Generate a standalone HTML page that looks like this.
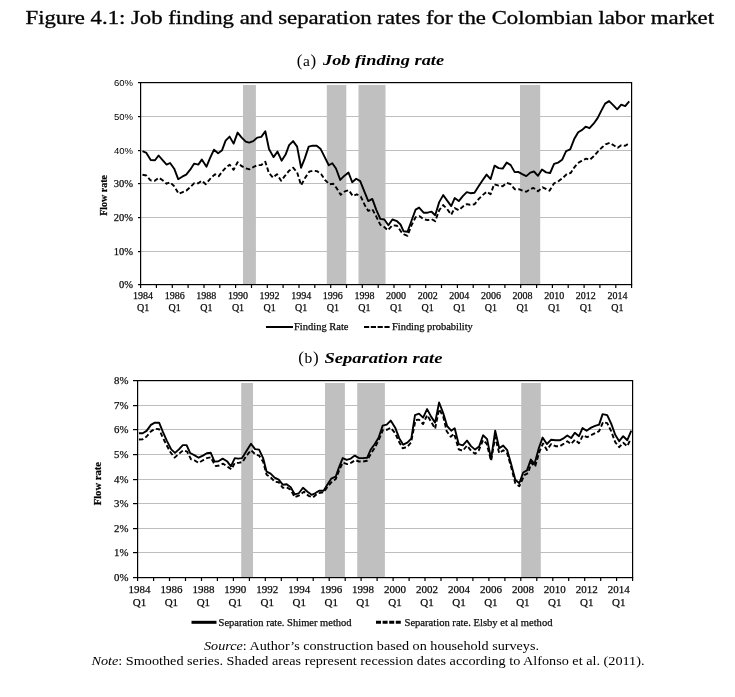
<!DOCTYPE html><html><head><meta charset="utf-8"><style>
html,body{margin:0;padding:0;background:#fff;}body{width:735px;height:697px;overflow:hidden;position:relative;}
svg{position:absolute;left:0;top:0;will-change:transform;}
text{font-family:"Liberation Serif", serif;fill:#000;}
.lab{stroke:#1a1a1a;stroke-width:0.25px;}
</style></head><body>
<svg width="735" height="697" viewBox="0 0 735 697">
<rect width="735" height="697" fill="#fff"/>
<text x="25.5" y="23.7" font-size="18.5" textLength="688.5" lengthAdjust="spacingAndGlyphs" fill="#141414" stroke="#141414" stroke-width="0.35">Figure 4.1: Job finding and separation rates for the Colombian labor market</text>
<text x="296.8" y="65.5" font-size="17" fill="#1a1a1a">(<tspan font-size="15.5" dx="0.6">a</tspan><tspan dx="0.6">)</tspan></text>
<text x="323" y="64.8" font-size="15.5" font-weight="bold" font-style="italic" textLength="121" lengthAdjust="spacingAndGlyphs" fill="#1a1a1a">Job finding rate</text>
<text x="298.3" y="363.3" font-size="17" fill="#1a1a1a">(<tspan font-size="15.5" dx="0.6">b</tspan><tspan dx="0.6">)</tspan></text>
<text x="324.5" y="362.6" font-size="15.5" font-weight="bold" font-style="italic" textLength="118" lengthAdjust="spacingAndGlyphs" fill="#1a1a1a">Separation rate</text>
<rect x="140" y="116" width="491" height="1" fill="#bebebe"/>
<rect x="140" y="150" width="491" height="1" fill="#bebebe"/>
<rect x="140" y="183" width="491" height="1" fill="#bebebe"/>
<rect x="140" y="217" width="491" height="1" fill="#bebebe"/>
<rect x="140" y="251" width="491" height="1" fill="#bebebe"/>
<rect x="243" y="85" width="12.900000000000006" height="199" fill="#c0c0c0"/>
<rect x="326.8" y="85" width="19.5" height="199" fill="#c0c0c0"/>
<rect x="358.5" y="85" width="27.0" height="199" fill="#c0c0c0"/>
<rect x="520" y="85" width="20.200000000000045" height="199" fill="#c0c0c0"/>
<polyline points="142.5,151.1 146.4,152.9 150.7,160.1 155.0,160.3 158.6,155.5 162.6,160.1 166.6,164.6 170.1,163.0 174.2,168.7 178.2,179.2 182.2,176.7 186.2,174.7 190.2,169.7 194.2,163.6 198.3,164.6 201.8,159.6 206.5,166.7 210.0,158.2 214.0,149.7 218.1,153.2 222.1,150.2 225.6,140.6 229.6,136.6 233.6,143.6 237.6,132.6 241.7,137.6 245.7,141.6 249.2,142.6 253.2,141.1 257.2,137.6 261.3,136.9 265.3,131.3 269.0,149.0 273.5,157.1 277.5,151.6 281.6,160.7 285.6,154.6 289.1,145.1 293.1,141.1 297.1,146.6 301.1,167.7 304.7,158.6 308.7,146.6 312.7,145.6 316.7,145.8 320.7,149.1 324.7,157.1 328.8,165.2 332.3,163.2 336.0,168.5 340.2,179.9 344.2,175.9 348.5,172.5 352.2,182.2 356.2,178.8 360.2,181.1 364.3,191.4 368.3,201.1 372.3,198.9 376.3,209.8 380.3,218.9 384.3,219.5 388.4,225.2 392.4,219.5 397.0,221.2 400.5,224.5 403.5,231.2 407.5,231.7 411.5,220.7 415.6,209.6 419.1,207.6 423.6,212.7 427.6,212.7 431.6,211.7 435.2,215.2 439.2,202.1 443.2,195.1 447.2,200.6 451.2,206.1 454.7,198.1 458.8,201.1 462.8,196.1 466.8,192.1 470.5,193.2 474.5,192.7 478.6,186.2 482.6,180.2 486.6,174.6 490.6,179.1 494.6,165.6 498.6,168.1 502.7,168.6 506.7,162.6 510.7,165.1 514.7,172.1 518.2,171.9 522.2,174.1 526.3,176.1 530.3,172.6 534.0,171.5 538.0,175.8 542.0,169.5 546.1,172.4 550.1,173.0 554.1,163.8 558.1,162.6 562.1,159.8 566.1,151.1 570.2,149.4 574.2,139.1 578.2,132.2 582.2,129.9 585.6,126.7 589.5,128.2 593.6,123.7 597.6,118.1 601.1,111.1 605.1,103.6 609.1,101.1 613.2,105.1 617.2,109.3 621.2,104.6 625.2,106.1 629.2,101.3" fill="none" stroke="#000" stroke-width="1.9" stroke-linejoin="round" stroke-linecap="butt"/>
<polyline points="142.5,174.8 146.4,175.5 150.5,180.4 154.7,180.8 158.8,177.7 162.6,180.2 166.6,183.7 170.1,182.2 174.2,186.2 178.7,193.8 182.2,192.3 186.2,190.8 190.2,187.2 194.2,183.2 198.3,183.2 201.8,180.7 205.8,184.2 211.5,177.3 215.1,174.3 218.6,176.3 222.3,171.5 226.1,167.2 229.6,164.7 233.6,169.8 237.6,162.2 241.7,166.2 245.7,168.3 249.7,169.3 253.2,167.2 257.2,165.2 261.3,165.0 265.3,161.7 268.8,172.8 273.0,177.7 277.0,174.2 281.1,180.7 285.1,175.7 289.1,170.7 293.1,167.7 297.1,172.2 301.1,185.3 305.2,177.7 309.2,171.7 313.2,170.7 317.2,171.2 321.2,174.2 325.2,180.2 329.3,184.3 333.3,183.8 336.5,188.0 340.7,194.8 344.8,191.4 348.8,190.2 352.8,196.0 356.8,194.3 360.8,196.6 364.8,205.2 368.3,210.9 372.3,209.2 376.3,216.6 380.3,224.7 384.3,227.0 387.8,230.4 392.4,225.2 397.0,225.8 401.5,232.2 404.0,234.3 407.5,235.8 411.5,225.2 415.6,217.2 419.6,216.2 423.6,219.2 427.6,220.2 431.6,219.2 435.2,221.2 439.2,210.2 443.2,205.1 447.2,209.1 451.2,214.7 454.7,208.1 458.8,210.2 462.8,206.6 466.8,204.1 470.0,204.8 474.5,204.3 478.6,199.2 482.6,195.2 486.6,191.7 490.6,194.2 494.1,184.2 498.6,185.7 502.7,186.2 506.7,182.7 510.7,184.2 514.7,189.2 518.7,189.2 522.7,190.7 526.3,191.7 530.3,189.2 533.4,187.9 538.0,191.3 542.6,187.3 549.5,190.7 554.1,183.3 558.7,181.0 563.3,177.5 566.7,174.1 570.7,173.0 573.6,168.4 577.6,163.2 581.6,160.9 586.2,158.6 589.7,159.8 593.7,156.3 597.6,151.8 601.6,147.8 605.6,144.3 609.6,142.8 613.7,145.3 617.7,147.8 621.2,145.3 625.2,145.8 629.2,143.3" fill="none" stroke="#000" stroke-width="1.9" stroke-linejoin="round" stroke-dasharray="4.5 2.5"/>
<rect x="140" y="82" width="492" height="1.2" fill="#000"/>
<rect x="140" y="284" width="492" height="1.2" fill="#000"/>
<rect x="140" y="82" width="1.2" height="203" fill="#000"/>
<rect x="631" y="82" width="1.2" height="203" fill="#000"/>
<rect x="138" y="82" width="2" height="1.2" fill="#000"/>
<rect x="138" y="116" width="2" height="1.2" fill="#000"/>
<rect x="138" y="150" width="2" height="1.2" fill="#000"/>
<rect x="138" y="183" width="2" height="1.2" fill="#000"/>
<rect x="138" y="217" width="2" height="1.2" fill="#000"/>
<rect x="138" y="251" width="2" height="1.2" fill="#000"/>
<rect x="138" y="284" width="2" height="1.2" fill="#000"/>
<rect x="140.0" y="284" width="1.2" height="4" fill="#000"/>
<rect x="155.8" y="284" width="1.2" height="4" fill="#000"/>
<rect x="171.7" y="284" width="1.2" height="4" fill="#000"/>
<rect x="187.5" y="284" width="1.2" height="4" fill="#000"/>
<rect x="203.4" y="284" width="1.2" height="4" fill="#000"/>
<rect x="219.2" y="284" width="1.2" height="4" fill="#000"/>
<rect x="235.0" y="284" width="1.2" height="4" fill="#000"/>
<rect x="250.9" y="284" width="1.2" height="4" fill="#000"/>
<rect x="266.7" y="284" width="1.2" height="4" fill="#000"/>
<rect x="282.5" y="284" width="1.2" height="4" fill="#000"/>
<rect x="298.4" y="284" width="1.2" height="4" fill="#000"/>
<rect x="314.2" y="284" width="1.2" height="4" fill="#000"/>
<rect x="330.1" y="284" width="1.2" height="4" fill="#000"/>
<rect x="345.9" y="284" width="1.2" height="4" fill="#000"/>
<rect x="361.7" y="284" width="1.2" height="4" fill="#000"/>
<rect x="377.6" y="284" width="1.2" height="4" fill="#000"/>
<rect x="393.4" y="284" width="1.2" height="4" fill="#000"/>
<rect x="409.3" y="284" width="1.2" height="4" fill="#000"/>
<rect x="425.1" y="284" width="1.2" height="4" fill="#000"/>
<rect x="440.9" y="284" width="1.2" height="4" fill="#000"/>
<rect x="456.8" y="284" width="1.2" height="4" fill="#000"/>
<rect x="472.6" y="284" width="1.2" height="4" fill="#000"/>
<rect x="488.5" y="284" width="1.2" height="4" fill="#000"/>
<rect x="504.3" y="284" width="1.2" height="4" fill="#000"/>
<rect x="520.1" y="284" width="1.2" height="4" fill="#000"/>
<rect x="536.0" y="284" width="1.2" height="4" fill="#000"/>
<rect x="551.8" y="284" width="1.2" height="4" fill="#000"/>
<rect x="567.6" y="284" width="1.2" height="4" fill="#000"/>
<rect x="583.5" y="284" width="1.2" height="4" fill="#000"/>
<rect x="599.3" y="284" width="1.2" height="4" fill="#000"/>
<rect x="615.2" y="284" width="1.2" height="4" fill="#000"/>
<rect x="631.0" y="284" width="1.2" height="4" fill="#000"/>
<text x="143.1" y="298.8" font-size="10" text-anchor="middle" class="lab" fill="#1a1a1a">1984</text>
<text x="143.1" y="311" font-size="10" text-anchor="middle" class="lab" fill="#1a1a1a">Q1</text>
<text x="174.7" y="298.8" font-size="10" text-anchor="middle" class="lab" fill="#1a1a1a">1986</text>
<text x="174.7" y="311" font-size="10" text-anchor="middle" class="lab" fill="#1a1a1a">Q1</text>
<text x="206.3" y="298.8" font-size="10" text-anchor="middle" class="lab" fill="#1a1a1a">1988</text>
<text x="206.3" y="311" font-size="10" text-anchor="middle" class="lab" fill="#1a1a1a">Q1</text>
<text x="238.0" y="298.8" font-size="10" text-anchor="middle" class="lab" fill="#1a1a1a">1990</text>
<text x="238.0" y="311" font-size="10" text-anchor="middle" class="lab" fill="#1a1a1a">Q1</text>
<text x="269.6" y="298.8" font-size="10" text-anchor="middle" class="lab" fill="#1a1a1a">1992</text>
<text x="269.6" y="311" font-size="10" text-anchor="middle" class="lab" fill="#1a1a1a">Q1</text>
<text x="301.2" y="298.8" font-size="10" text-anchor="middle" class="lab" fill="#1a1a1a">1994</text>
<text x="301.2" y="311" font-size="10" text-anchor="middle" class="lab" fill="#1a1a1a">Q1</text>
<text x="332.8" y="298.8" font-size="10" text-anchor="middle" class="lab" fill="#1a1a1a">1996</text>
<text x="332.8" y="311" font-size="10" text-anchor="middle" class="lab" fill="#1a1a1a">Q1</text>
<text x="364.4" y="298.8" font-size="10" text-anchor="middle" class="lab" fill="#1a1a1a">1998</text>
<text x="364.4" y="311" font-size="10" text-anchor="middle" class="lab" fill="#1a1a1a">Q1</text>
<text x="396.1" y="298.8" font-size="10" text-anchor="middle" class="lab" fill="#1a1a1a">2000</text>
<text x="396.1" y="311" font-size="10" text-anchor="middle" class="lab" fill="#1a1a1a">Q1</text>
<text x="427.7" y="298.8" font-size="10" text-anchor="middle" class="lab" fill="#1a1a1a">2002</text>
<text x="427.7" y="311" font-size="10" text-anchor="middle" class="lab" fill="#1a1a1a">Q1</text>
<text x="459.3" y="298.8" font-size="10" text-anchor="middle" class="lab" fill="#1a1a1a">2004</text>
<text x="459.3" y="311" font-size="10" text-anchor="middle" class="lab" fill="#1a1a1a">Q1</text>
<text x="490.9" y="298.8" font-size="10" text-anchor="middle" class="lab" fill="#1a1a1a">2006</text>
<text x="490.9" y="311" font-size="10" text-anchor="middle" class="lab" fill="#1a1a1a">Q1</text>
<text x="522.5" y="298.8" font-size="10" text-anchor="middle" class="lab" fill="#1a1a1a">2008</text>
<text x="522.5" y="311" font-size="10" text-anchor="middle" class="lab" fill="#1a1a1a">Q1</text>
<text x="554.2" y="298.8" font-size="10" text-anchor="middle" class="lab" fill="#1a1a1a">2010</text>
<text x="554.2" y="311" font-size="10" text-anchor="middle" class="lab" fill="#1a1a1a">Q1</text>
<text x="585.8" y="298.8" font-size="10" text-anchor="middle" class="lab" fill="#1a1a1a">2012</text>
<text x="585.8" y="311" font-size="10" text-anchor="middle" class="lab" fill="#1a1a1a">Q1</text>
<text x="617.4" y="298.8" font-size="10" text-anchor="middle" class="lab" fill="#1a1a1a">2014</text>
<text x="617.4" y="311" font-size="10" text-anchor="middle" class="lab" fill="#1a1a1a">Q1</text>
<text x="133" y="287.8" font-size="10.5" text-anchor="end" class="lab" style='font-family:"Liberation Serif", serif' fill="#1a1a1a">0%</text>
<text x="133" y="254.8" font-size="10.5" text-anchor="end" class="lab" style='font-family:"Liberation Serif", serif' fill="#1a1a1a">10%</text>
<text x="133" y="220.8" font-size="10.5" text-anchor="end" class="lab" style='font-family:"Liberation Serif", serif' fill="#1a1a1a">20%</text>
<text x="133" y="186.8" font-size="10.5" text-anchor="end" class="lab" style='font-family:"Liberation Serif", serif' fill="#1a1a1a">30%</text>
<text x="133" y="153.8" font-size="9.5" text-anchor="end" class="" style='font-family:"Liberation Sans", sans-serif' fill="#1a1a1a">40%</text>
<text x="133" y="119.8" font-size="9.5" text-anchor="end" class="" style='font-family:"Liberation Sans", sans-serif' fill="#1a1a1a">50%</text>
<text x="133" y="85.8" font-size="9.5" text-anchor="end" class="" style='font-family:"Liberation Sans", sans-serif' fill="#1a1a1a">60%</text>
<text transform="translate(106.5,195.4) rotate(-90)" x="0" y="0" font-size="10" font-weight="bold" text-anchor="middle" class="lab" fill="#1a1a1a">Flow rate</text>
<rect x="137" y="405" width="495" height="1" fill="#bebebe"/>
<rect x="137" y="429" width="495" height="1" fill="#bebebe"/>
<rect x="137" y="454" width="495" height="1" fill="#bebebe"/>
<rect x="137" y="479" width="495" height="1" fill="#bebebe"/>
<rect x="137" y="503" width="495" height="1" fill="#bebebe"/>
<rect x="137" y="528" width="495" height="1" fill="#bebebe"/>
<rect x="137" y="552" width="495" height="1" fill="#bebebe"/>
<rect x="241.2" y="383" width="11.800000000000011" height="194" fill="#c0c0c0"/>
<rect x="325" y="383" width="19.899999999999977" height="194" fill="#c0c0c0"/>
<rect x="357.2" y="383" width="27.69999999999999" height="194" fill="#c0c0c0"/>
<rect x="521.2" y="383" width="19.59999999999991" height="194" fill="#c0c0c0"/>
<polyline points="138.9,433.2 142.7,433.2 146.6,430.9 150.9,424.9 154.8,422.6 159.1,422.7 163.0,432.2 166.9,440.8 171.2,449.4 175.0,452.9 178.9,449.4 182.8,445.1 186.6,445.1 190.1,453.0 194.3,455.1 198.6,457.7 202.9,455.6 206.8,453.2 210.7,452.7 214.5,461.6 218.4,461.2 222.7,458.6 227.0,461.2 230.9,466.3 234.8,458.1 238.2,458.6 242.1,458.1 246.0,451.7 251.0,443.8 255.1,449.1 259.1,449.6 263.1,458.1 266.6,471.7 270.6,473.7 274.6,477.7 278.7,479.7 282.7,484.7 286.7,484.2 290.7,487.3 294.7,494.3 298.8,493.3 303.0,487.7 307.5,491.8 311.6,494.8 315.1,493.3 319.1,490.8 323.6,490.8 327.6,484.2 331.2,478.7 335.7,476.7 338.7,468.1 342.7,458.1 346.7,459.9 350.8,458.6 354.8,455.6 359.0,458.1 363.0,458.1 367.1,457.8 370.6,449.8 374.6,444.2 378.6,437.7 382.6,425.7 386.7,424.6 390.7,420.6 395.2,427.7 399.2,438.2 403.2,444.7 407.3,442.7 411.3,438.7 415.0,415.1 419.0,413.6 423.1,417.6 427.1,409.1 431.1,416.6 435.1,422.6 439.1,402.5 443.2,413.1 447.2,426.2 451.2,430.7 454.7,428.2 458.7,444.2 462.8,445.3 467.0,440.6 471.0,446.1 475.1,449.6 479.1,446.6 483.1,435.3 487.1,439.1 491.1,459.2 495.2,430.6 499.2,448.1 503.2,445.6 507.2,450.2 511.2,464.2 515.3,479.8 519.3,483.3 523.2,472.5 527.0,470.4 530.8,459.6 534.5,463.9 538.8,448.3 542.6,437.6 546.9,444.0 551.2,439.7 555.5,440.3 559.8,440.3 563.0,438.7 567.3,435.4 571.1,438.1 574.8,432.7 579.0,436.2 582.5,428.1 586.6,430.7 591.1,427.6 595.1,425.9 599.1,424.6 602.6,414.1 607.2,415.1 611.2,423.6 615.2,434.7 619.2,441.2 623.2,436.2 627.3,440.2 631.3,430.7" fill="none" stroke="#000" stroke-width="1.9" stroke-linejoin="round" stroke-linecap="butt"/>
<polyline points="138.9,439.5 142.7,439.3 146.6,436.5 150.5,431.8 154.8,428.8 159.1,429.2 162.5,437.0 166.4,444.7 170.3,452.0 174.6,457.6 178.5,454.2 183.2,450.3 187.1,451.6 191.0,459.3 194.3,460.3 198.6,462.9 202.9,460.3 206.8,458.1 210.7,457.3 213.7,462.9 215.8,466.1 219.3,465.5 223.1,463.7 227.0,466.3 231.3,469.3 234.8,462.9 238.6,462.9 242.5,462.0 246.0,456.4 251.0,450.1 255.1,454.1 259.1,455.6 263.1,461.6 266.6,474.7 270.6,477.2 274.6,481.7 278.7,482.2 282.7,487.8 286.7,487.3 290.7,489.8 294.7,497.3 299.3,495.3 304.0,491.8 308.5,495.8 313.1,497.3 317.6,493.3 323.6,492.3 327.6,486.7 332.2,481.2 335.7,479.2 339.2,470.2 342.7,462.6 347.2,464.1 351.3,462.6 355.3,460.1 359.0,461.5 363.0,461.5 367.1,460.8 371.1,453.3 375.1,447.3 379.1,439.2 383.1,429.7 387.2,429.7 390.7,427.7 395.2,433.2 399.2,442.2 402.7,448.3 407.3,446.8 411.0,442.5 412.5,435.2 415.5,420.1 419.0,419.6 423.1,424.1 427.1,415.1 431.1,421.6 435.1,428.7 439.1,409.1 443.2,416.6 446.7,431.2 450.7,436.7 454.2,433.7 458.7,449.3 462.8,450.8 467.0,445.6 471.0,450.7 475.1,453.7 478.6,450.7 483.1,440.1 486.6,443.6 491.1,460.7 495.2,437.1 499.2,453.2 503.2,450.2 507.2,453.2 511.2,467.2 515.3,483.3 519.3,486.3 524.3,475.2 528.1,473.1 531.3,462.8 535.1,466.6 539.4,451.6 543.1,443.5 546.9,450.0 551.2,444.0 555.5,446.2 559.8,446.2 564.1,443.5 567.3,441.3 571.1,444.0 575.0,439.7 579.0,443.2 583.0,435.2 587.1,437.2 591.1,435.2 595.1,433.2 599.1,431.2 603.1,422.1 607.2,423.1 611.2,431.2 615.2,442.2 619.2,447.2 623.2,442.7 627.3,446.2 630.8,438.7" fill="none" stroke="#000" stroke-width="1.9" stroke-linejoin="round" stroke-dasharray="4.5 2.5"/>
<rect x="137" y="380" width="496" height="1.2" fill="#000"/>
<rect x="137" y="577" width="496" height="1.2" fill="#000"/>
<rect x="137" y="380" width="1.2" height="198" fill="#000"/>
<rect x="632" y="380" width="1.2" height="198" fill="#000"/>
<rect x="133" y="380" width="4" height="1.2" fill="#000"/>
<rect x="133" y="405" width="4" height="1.2" fill="#000"/>
<rect x="133" y="429" width="4" height="1.2" fill="#000"/>
<rect x="133" y="454" width="4" height="1.2" fill="#000"/>
<rect x="133" y="479" width="4" height="1.2" fill="#000"/>
<rect x="133" y="503" width="4" height="1.2" fill="#000"/>
<rect x="133" y="528" width="4" height="1.2" fill="#000"/>
<rect x="133" y="552" width="4" height="1.2" fill="#000"/>
<rect x="133" y="577" width="4" height="1.2" fill="#000"/>
<rect x="137.0" y="577" width="1.2" height="4" fill="#000"/>
<rect x="153.0" y="577" width="1.2" height="4" fill="#000"/>
<rect x="168.9" y="577" width="1.2" height="4" fill="#000"/>
<rect x="184.9" y="577" width="1.2" height="4" fill="#000"/>
<rect x="200.9" y="577" width="1.2" height="4" fill="#000"/>
<rect x="216.8" y="577" width="1.2" height="4" fill="#000"/>
<rect x="232.8" y="577" width="1.2" height="4" fill="#000"/>
<rect x="248.8" y="577" width="1.2" height="4" fill="#000"/>
<rect x="264.7" y="577" width="1.2" height="4" fill="#000"/>
<rect x="280.7" y="577" width="1.2" height="4" fill="#000"/>
<rect x="296.7" y="577" width="1.2" height="4" fill="#000"/>
<rect x="312.6" y="577" width="1.2" height="4" fill="#000"/>
<rect x="328.6" y="577" width="1.2" height="4" fill="#000"/>
<rect x="344.6" y="577" width="1.2" height="4" fill="#000"/>
<rect x="360.5" y="577" width="1.2" height="4" fill="#000"/>
<rect x="376.5" y="577" width="1.2" height="4" fill="#000"/>
<rect x="392.5" y="577" width="1.2" height="4" fill="#000"/>
<rect x="408.5" y="577" width="1.2" height="4" fill="#000"/>
<rect x="424.4" y="577" width="1.2" height="4" fill="#000"/>
<rect x="440.4" y="577" width="1.2" height="4" fill="#000"/>
<rect x="456.4" y="577" width="1.2" height="4" fill="#000"/>
<rect x="472.3" y="577" width="1.2" height="4" fill="#000"/>
<rect x="488.3" y="577" width="1.2" height="4" fill="#000"/>
<rect x="504.3" y="577" width="1.2" height="4" fill="#000"/>
<rect x="520.2" y="577" width="1.2" height="4" fill="#000"/>
<rect x="536.2" y="577" width="1.2" height="4" fill="#000"/>
<rect x="552.2" y="577" width="1.2" height="4" fill="#000"/>
<rect x="568.1" y="577" width="1.2" height="4" fill="#000"/>
<rect x="584.1" y="577" width="1.2" height="4" fill="#000"/>
<rect x="600.1" y="577" width="1.2" height="4" fill="#000"/>
<rect x="616.0" y="577" width="1.2" height="4" fill="#000"/>
<rect x="632.0" y="577" width="1.2" height="4" fill="#000"/>
<text x="139.5" y="592.9" font-size="11" text-anchor="middle" class="lab" fill="#1a1a1a">1984</text>
<text x="139.5" y="605.7" font-size="11" text-anchor="middle" class="lab" fill="#1a1a1a">Q1</text>
<text x="171.4" y="592.9" font-size="11" text-anchor="middle" class="lab" fill="#1a1a1a">1986</text>
<text x="171.4" y="605.7" font-size="11" text-anchor="middle" class="lab" fill="#1a1a1a">Q1</text>
<text x="203.4" y="592.9" font-size="11" text-anchor="middle" class="lab" fill="#1a1a1a">1988</text>
<text x="203.4" y="605.7" font-size="11" text-anchor="middle" class="lab" fill="#1a1a1a">Q1</text>
<text x="235.3" y="592.9" font-size="11" text-anchor="middle" class="lab" fill="#1a1a1a">1990</text>
<text x="235.3" y="605.7" font-size="11" text-anchor="middle" class="lab" fill="#1a1a1a">Q1</text>
<text x="267.3" y="592.9" font-size="11" text-anchor="middle" class="lab" fill="#1a1a1a">1992</text>
<text x="267.3" y="605.7" font-size="11" text-anchor="middle" class="lab" fill="#1a1a1a">Q1</text>
<text x="299.2" y="592.9" font-size="11" text-anchor="middle" class="lab" fill="#1a1a1a">1994</text>
<text x="299.2" y="605.7" font-size="11" text-anchor="middle" class="lab" fill="#1a1a1a">Q1</text>
<text x="331.2" y="592.9" font-size="11" text-anchor="middle" class="lab" fill="#1a1a1a">1996</text>
<text x="331.2" y="605.7" font-size="11" text-anchor="middle" class="lab" fill="#1a1a1a">Q1</text>
<text x="363.1" y="592.9" font-size="11" text-anchor="middle" class="lab" fill="#1a1a1a">1998</text>
<text x="363.1" y="605.7" font-size="11" text-anchor="middle" class="lab" fill="#1a1a1a">Q1</text>
<text x="395.1" y="592.9" font-size="11" text-anchor="middle" class="lab" fill="#1a1a1a">2000</text>
<text x="395.1" y="605.7" font-size="11" text-anchor="middle" class="lab" fill="#1a1a1a">Q1</text>
<text x="427.1" y="592.9" font-size="11" text-anchor="middle" class="lab" fill="#1a1a1a">2002</text>
<text x="427.1" y="605.7" font-size="11" text-anchor="middle" class="lab" fill="#1a1a1a">Q1</text>
<text x="459.0" y="592.9" font-size="11" text-anchor="middle" class="lab" fill="#1a1a1a">2004</text>
<text x="459.0" y="605.7" font-size="11" text-anchor="middle" class="lab" fill="#1a1a1a">Q1</text>
<text x="490.9" y="592.9" font-size="11" text-anchor="middle" class="lab" fill="#1a1a1a">2006</text>
<text x="490.9" y="605.7" font-size="11" text-anchor="middle" class="lab" fill="#1a1a1a">Q1</text>
<text x="522.9" y="592.9" font-size="11" text-anchor="middle" class="lab" fill="#1a1a1a">2008</text>
<text x="522.9" y="605.7" font-size="11" text-anchor="middle" class="lab" fill="#1a1a1a">Q1</text>
<text x="554.8" y="592.9" font-size="11" text-anchor="middle" class="lab" fill="#1a1a1a">2010</text>
<text x="554.8" y="605.7" font-size="11" text-anchor="middle" class="lab" fill="#1a1a1a">Q1</text>
<text x="586.8" y="592.9" font-size="11" text-anchor="middle" class="lab" fill="#1a1a1a">2012</text>
<text x="586.8" y="605.7" font-size="11" text-anchor="middle" class="lab" fill="#1a1a1a">Q1</text>
<text x="618.8" y="592.9" font-size="11" text-anchor="middle" class="lab" fill="#1a1a1a">2014</text>
<text x="618.8" y="605.7" font-size="11" text-anchor="middle" class="lab" fill="#1a1a1a">Q1</text>
<text x="128.5" y="580.8" font-size="10.8" text-anchor="end" class="lab" style='font-family:"Liberation Serif", serif' fill="#1a1a1a">0%</text>
<text x="128.5" y="555.8" font-size="10.8" text-anchor="end" class="lab" style='font-family:"Liberation Serif", serif' fill="#1a1a1a">1%</text>
<text x="128.5" y="531.8" font-size="10.8" text-anchor="end" class="lab" style='font-family:"Liberation Serif", serif' fill="#1a1a1a">2%</text>
<text x="128.5" y="506.8" font-size="10.8" text-anchor="end" class="lab" style='font-family:"Liberation Serif", serif' fill="#1a1a1a">3%</text>
<text x="128.5" y="482.8" font-size="10.8" text-anchor="end" class="lab" style='font-family:"Liberation Serif", serif' fill="#1a1a1a">4%</text>
<text x="128.5" y="457.8" font-size="10.8" text-anchor="end" class="lab" style='font-family:"Liberation Serif", serif' fill="#1a1a1a">5%</text>
<text x="128.5" y="432.8" font-size="10.8" text-anchor="end" class="lab" style='font-family:"Liberation Serif", serif' fill="#1a1a1a">6%</text>
<text x="128.5" y="408.8" font-size="10.8" text-anchor="end" class="lab" style='font-family:"Liberation Serif", serif' fill="#1a1a1a">7%</text>
<text x="128.5" y="383.8" font-size="10.8" text-anchor="end" class="lab" style='font-family:"Liberation Serif", serif' fill="#1a1a1a">8%</text>
<text transform="translate(100.5,483.7) rotate(-90)" x="0" y="0" font-size="10.6" font-weight="bold" text-anchor="middle" class="lab" fill="#1a1a1a">Flow rate</text>
<rect x="266" y="326" width="27" height="2" fill="#000"/>
<text x="294" y="330" font-size="10" textLength="54.5" lengthAdjust="spacingAndGlyphs" class="lab" fill="#1a1a1a">Finding Rate</text>
<line x1="364" y1="327" x2="390.5" y2="327" stroke="#000" stroke-width="2" stroke-dasharray="5.2 1.6"/>
<text x="392" y="330" font-size="10" textLength="80.8" lengthAdjust="spacingAndGlyphs" class="lab" fill="#1a1a1a">Finding probability</text>
<rect x="191.5" y="620.8" width="25" height="3" fill="#000"/>
<text x="218.6" y="625.5" font-size="10.5" textLength="133" lengthAdjust="spacingAndGlyphs" class="lab" fill="#1a1a1a">Separation rate. Shimer method</text>
<line x1="376" y1="622.3" x2="401.7" y2="622.3" stroke="#000" stroke-width="3" stroke-dasharray="5 1.6"/>
<text x="404.5" y="625.5" font-size="10.5" textLength="148" lengthAdjust="spacingAndGlyphs" class="lab" fill="#1a1a1a">Separation rate. Elsby et al method</text>
<text x="204" y="650" font-size="13" textLength="335" lengthAdjust="spacingAndGlyphs" fill="#1a1a1a"><tspan font-style="italic">Source</tspan>: Author’s construction based on household surveys.</text>
<text x="91.5" y="665" font-size="13" textLength="553" lengthAdjust="spacingAndGlyphs" fill="#1a1a1a"><tspan font-style="italic">Note</tspan>: Smoothed series. Shaded areas represent recession dates according to Alfonso et al. (2011).</text>
</svg></body></html>
